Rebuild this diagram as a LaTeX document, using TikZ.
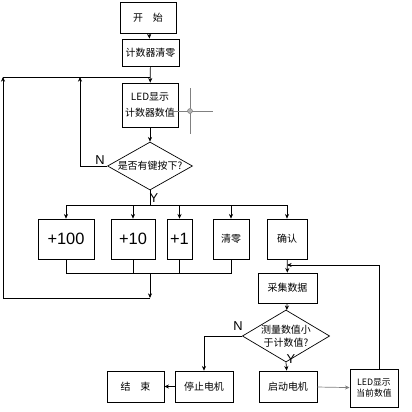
\documentclass[tikz,border=0pt]{standalone}
\usepackage{fontspec}
\setmainfont{Liberation Sans}
\newfontfamily\cjk{Noto Sans CJK SC}
\usetikzlibrary{shapes.geometric,arrows.meta}
\begin{document}
\begin{tikzpicture}[x=0.03cm,y=-0.03cm,
  box/.style={draw,line width=0.6pt,inner sep=0pt,align=center,font=\cjk\fontsize{8.5}{11}\selectfont},
  numbox/.style={box,font=\fontsize{14}{16}\selectfont},
  dec/.style={draw,diamond,aspect=1.7,line width=0.6pt,inner sep=0pt,align=center,font=\cjk\fontsize{8.5}{11}\selectfont},
  ln/.style={line width=0.6pt},
  arr/.style={ln,-{Stealth[length=4pt,width=3.5pt]}},
  lbl/.style={font=\fontsize{11}{12}\selectfont,inner sep=0pt}]
\useasboundingbox (0,0) rectangle (411,412);
% nodes
\node[box,minimum width=56*0.03cm,minimum height=31*0.03cm] (start) at (148,17.5) {开\quad 始};
\node[box,minimum width=57*0.03cm,minimum height=27*0.03cm] (clr) at (150.5,52.5) {计数器清零};
\node[box,minimum width=56*0.03cm,minimum height=44*0.03cm] (led) at (150,105) {LED显示\\[2pt]计数器数值};
\node[dec,minimum width=85*0.03cm,minimum height=48*0.03cm] (d1) at (150,166) {是否有键按下?};
\node[numbox,minimum width=56*0.03cm,minimum height=40*0.03cm] (b100) at (66,239) {+100};
\node[numbox,minimum width=44*0.03cm,minimum height=40*0.03cm] (b10) at (133,239) {+10};
\node[numbox,minimum width=25*0.03cm,minimum height=40*0.03cm] (b1) at (179.5,239) {+1};
\node[box,minimum width=36*0.03cm,minimum height=40*0.03cm] (bclr) at (231,239) {清零};
\node[box,minimum width=40*0.03cm,minimum height=40*0.03cm] (bok) at (287,239) {确认};
\node[box,minimum width=59*0.03cm,minimum height=30*0.03cm] (acq) at (287.5,288) {采集数据};
\node[dec,minimum width=86*0.03cm,minimum height=52*0.03cm] (d2) at (286,336) {测量数值小\\于计数值?};
\node[box,minimum width=58*0.03cm,minimum height=31*0.03cm] (stop) at (204,386.5) {停止电机};
\node[box,minimum width=58*0.03cm,minimum height=31*0.03cm] (startm) at (288,386.5) {启动电机};
\node[box,minimum width=57*0.03cm,minimum height=31*0.03cm] (end) at (135.5,386.5) {结\quad 束};
\node[box,minimum width=48*0.03cm,minimum height=38*0.03cm,font=\cjk\fontsize{7.5}{10}\selectfont] (led2) at (374,388) {LED显示\\当前数值};
% coordinates
\coordinate (nL) at (80,166);
\coordinate (nT) at (80,77);
\coordinate (lT) at (3,77);
\coordinate (lB) at (3,298);
\coordinate (mB) at (150,298);
\coordinate (mT) at (150,273);
\coordinate (yS) at (150,205);
\coordinate (dL) at (66,205);
\coordinate (dR) at (287,205);
\coordinate (fbT) at (379,265);
\coordinate (fbL) at (287,265);
\coordinate (n2) at (204,336);
% connectors
\draw[arr] (start) -- (clr);
\draw[arr] (clr) -- (led);
\draw[arr] (led) -- (d1);
\draw[arr] (d1.west) -- (nL) -- (nT);
\draw[arr] (lB) -- (lT);
\draw[ln] (lT) -- (150,77);
\draw[ln] (d1.south) -- (yS);
\draw[ln] (dL) -- (dR);
\draw[arr] (dL) -- (b100);
\draw[arr] (b10.north |- yS) -- (b10);
\draw[arr] (b1.north |- yS) -- (b1);
\draw[arr] (bclr.north |- yS) -- (bclr);
\draw[arr] (dR) -- (bok);
\draw[ln] (b100.south) -- (b100.south |- mT) -- (bclr.south |- mT) -- (bclr.south);
\draw[ln] (b10.south) -- (b10.south |- mT);
\draw[ln] (b1.south) -- (b1.south |- mT);
\draw[arr] (mT) -- (mB);
\draw[ln] (mB) -- (lB);
\draw[arr] (bok) -- (acq);
\draw[arr] (led2.north -| fbT) -- (fbT) -- (fbL);
\draw[arr] (acq) -- (d2);
\draw[arr] (d2.west) -- (n2) -- (stop);
\draw[arr] (d2.south) -- (startm);
\draw[arr] (stop) -- (end);
\draw[arr,gray] (startm) -- (led2);
% labels
\node[lbl] (N1) at (100,160) {N};
\node[lbl] (Y1) at (154,198) {Y};
\node[lbl] (N2) at (238,326) {N};
\node[lbl] (Y2) at (291,359) {Y};
% crosshair mark
\draw[gray,line width=0.8pt] (190,88) -- (190,134) (172,111) -- (213,111);
\draw[gray,fill=gray!60] (190,111) circle (2.5);
\end{tikzpicture}
\end{document}
